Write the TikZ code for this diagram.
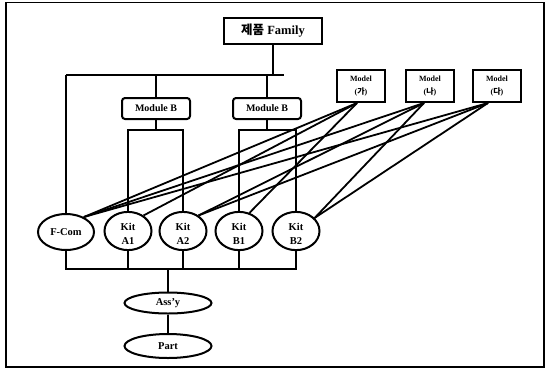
\documentclass[tikz,border=0pt]{standalone}
\usepackage{fontspec}
\setmainfont{Liberation Serif}
\newfontfamily\kr{Noto Sans CJK KR}
\usetikzlibrary{shapes.geometric,calc}

\begin{document}
\begin{tikzpicture}[x=1pt,y=-1pt,line width=1.6pt,
  sqbox/.style={draw,line width=2pt,rectangle,inner sep=0pt,align=center,font=\bfseries},
  modbox/.style={draw,line width=2pt,rectangle,rounded corners=3pt,inner sep=0pt,
    minimum width=68pt,minimum height=21pt,font=\bfseries\fontsize{10}{10}\selectfont},
  mdlbox/.style={sqbox,minimum width=48pt,minimum height=32pt,
    font=\bfseries\fontsize{8}{12.5}\selectfont},
  part/.style={draw,line width=2pt,ellipse,inner sep=0pt,align=center,
    font=\bfseries\fontsize{10.5}{14}\selectfont},
  kit/.style={part,minimum width=47pt,minimum height=32pt},
  link/.style={line width=1.6pt},
  fan/.style={line width=1.8pt}]
\useasboundingbox (0,0) rectangle (548,370);
\draw[line width=1.3pt] (6,2.5) rectangle (544,367);

% product family and modules
\node[sqbox,minimum width=98pt,minimum height=26pt,font=\bfseries\fontsize{12.5}{14}\selectfont]
  (fam) at (273,31) {{\kr\bfseries 제품} Family};
\node[modbox] (mb1) at (156,108.5) {Module B};
\node[modbox] (mb2) at (267,108.5) {Module B};

% models
\node[mdlbox] (mg) at (361,86) {Model\\({\kr 가})};
\node[mdlbox] (mn) at (430,86) {Model\\({\kr 나})};
\node[mdlbox] (md) at (497,86) {Model\\({\kr 다})};

% common part and kits (the strut sets the two-line labels a little lower)
\node[part,minimum width=56pt,minimum height=36pt] (fcom) at (66,232) {F-Com};
\node[kit] (ka1) at (128,231) {\rule{0pt}{13pt}Kit\\A1};
\node[kit] (ka2) at (183,231) {\rule{0pt}{13pt}Kit\\A2};
\node[kit] (kb1) at (239,231) {\rule{0pt}{13pt}Kit\\B1};
\node[kit] (kb2) at (296,231) {\rule{0pt}{13pt}Kit\\B2};

% assembly levels
\node[part,minimum width=87pt,minimum height=21pt] (assy) at (168,303) {Ass'y};
\node[part,minimum width=87pt,minimum height=24pt] (part) at (168,346) {Part};

% top distribution bar
\coordinate (tb) at (fam.south |- 0,75);
\draw[link] (fam.south) -- (tb);
\draw[link] (fcom.north |- tb) -- (284,75);
\draw[link] (fcom.north |- tb) -- (fcom.north);
\draw[link] (mb1.north |- tb) -- (mb1.north);
\draw[link] (mb2.north |- tb) -- (mb2.north);

% module brackets
\coordinate (b1) at (mb1.south |- 0,130);
\coordinate (b2) at (mb2.south |- 0,130);
\draw[link] (mb1.south) -- (b1);
\draw[link] (ka1.north) -- (ka1.north |- b1) -- (ka2.north |- b1) -- (ka2.north);
\draw[link] (mb2.south) -- (b2);
\draw[link] (kb1.north) -- (kb1.north |- b2) -- (kb2.north |- b2) -- (kb2.north);

% bottom collection bar
\coordinate (lb) at (assy.north |- 0,269);
\draw[link] (fcom.south) -- (fcom.south |- lb) -- (kb2.south |- lb) -- (kb2.south);
\draw[link] (ka1.south) -- (ka1.south |- lb);
\draw[link] (ka2.south) -- (ka2.south |- lb);
\draw[link] (kb1.south) -- (kb1.south |- lb);
\draw[link] (lb) -- (assy.north);
\draw[link] (assy.south) -- (part.north);

% model composition
\coordinate (fg) at ([xshift=-4pt]mg.south);
\coordinate (fn) at ([xshift=-6pt]mn.south);
\coordinate (fd) at ([xshift=-9pt]md.south);
\draw[fan] (fg) -- (fcom.40);
\draw[fan] (fg) -- (ka1.45);
\draw[fan] (fg) -- (kb1.60);
\draw[fan] (fn) -- (fcom.40);
\draw[fan] (fn) -- (ka2.45);
\draw[fan] (fn) -- (kb2.35);
\draw[fan] (fd) -- (fcom.40);
\draw[fan] (fd) -- (ka2.45);
\draw[fan] (fd) -- (kb2.35);
\end{tikzpicture}
\end{document}
